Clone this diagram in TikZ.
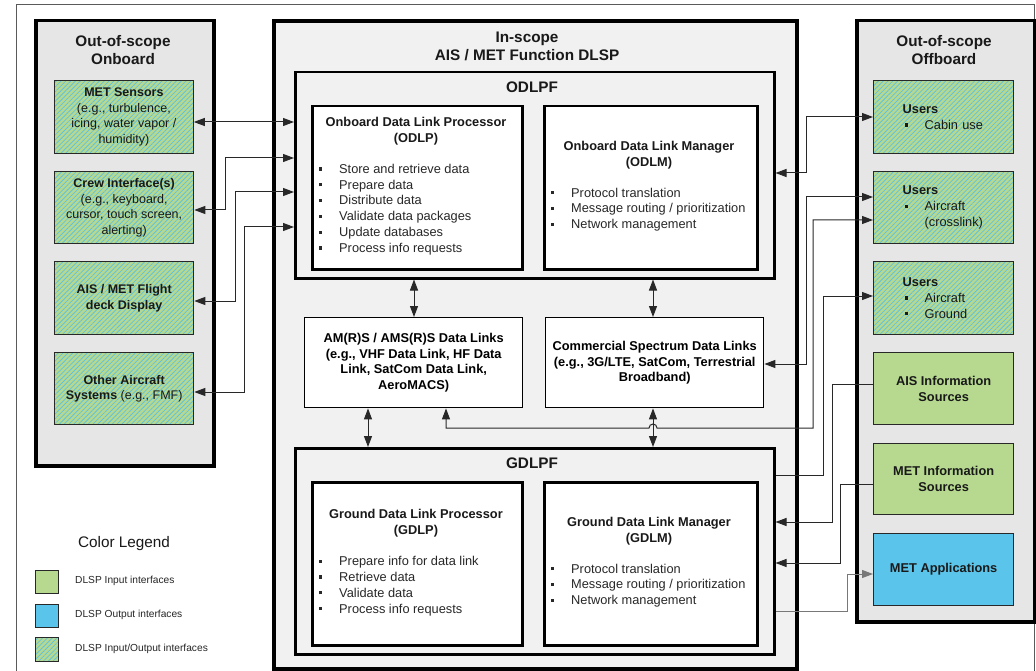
\documentclass[tikz,border=0pt]{standalone}
\usepackage{fontspec}
\setmainfont{Liberation Sans}
\usetikzlibrary{arrows.meta,patterns.meta}

\definecolor{ingreen}{RGB}{182,217,143}
\definecolor{hatchcyan}{RGB}{96,194,222}
\definecolor{outblue}{RGB}{90,196,234}
\definecolor{panelgray}{RGB}{230,230,230}
\definecolor{scopegray}{RGB}{241,241,241}
\definecolor{wirecol}{RGB}{40,40,40}
\definecolor{wirelight}{RGB}{120,120,120}
\definecolor{bodytext}{RGB}{40,40,40}
\definecolor{edgecol}{RGB}{40,40,40}
\definecolor{framecol}{RGB}{90,90,90}

\newcommand{\ttlfont}{\fontsize{15.3}{18.5}\selectfont\bfseries}
\newcommand{\hdfont}{\fontsize{12.8}{15.6}\selectfont\bfseries}
\newcommand{\txfont}{\fontsize{12.8}{15.8}\selectfont}
\newcommand{\cbfont}{\fontsize{12.5}{15.5}\selectfont}
\newcommand{\bul}{\makebox[20pt][l]{\rule[2.8pt]{3.2pt}{3.2pt}}}

\begin{document}
\begin{tikzpicture}[
  x=1pt, y=-1pt,
  >={Triangle[length=11pt,width=8pt]},
  panel/.style={draw=black, line width=3.5pt, fill=panelgray, anchor=north west, inner sep=0pt},
  inscope/.style={draw=black, line width=4pt, fill=scopegray, anchor=north west, inner sep=0pt},
  func/.style={draw=black, line width=2.5pt, fill=scopegray, anchor=north west, inner sep=0pt},
  unit/.style={draw=black, line width=2.5pt, fill=white, anchor=north west, inner sep=0pt},
  link/.style={draw=black, line width=1.4pt, fill=white, anchor=north west, inner sep=0pt,
    font=\hdfont, align=center, text=black},
  iobox/.style={draw=edgecol, line width=1.3pt, preaction={fill=ingreen},
    pattern={Lines[angle=45,distance=3.4pt,line width=0.8pt]}, pattern color=hatchcyan,
    anchor=north west, inner sep=0pt, font=\cbfont, align=center, text=black!90},
  inbox/.style={draw=edgecol, line width=1.3pt, fill=ingreen, anchor=north west,
    inner sep=0pt, font=\hdfont, align=center, text=black!90},
  outbox/.style={draw=edgecol, line width=1.3pt, fill=outblue, anchor=north west,
    inner sep=0pt, font=\hdfont, align=center, text=black!90},
  userbox/.style={iobox, text width=82pt, align=left, font=\txfont},
  ttl/.style={font=\ttlfont, align=center, inner sep=0pt, text=black!90},
  hd/.style={font=\hdfont, align=center, inner sep=0pt, text=black!90},
  blist/.style={font=\txfont, align=left, anchor=west, inner sep=0pt, text=bodytext},
  wire/.style={draw=wirecol, line width=1pt},
  softwire/.style={draw=wirelight, line width=1pt},
]
\useasboundingbox (0,0) rectangle (1036,671);
\fill[white] (0,0) rectangle (1036,671);

% page frame
\draw[framecol, line width=1pt] (16,680) -- (16,5) -- (1034,5) -- (1034,680);

% ---------- panels ----------
\node[panel, minimum width=178pt, minimum height=445pt] (onb) at (34,19) {};
\node[panel, minimum width=178pt, minimum height=601pt] (offb) at (855,19) {};
\node[inscope, minimum width=523pt, minimum height=648pt] (insc) at (272,19) {};

\node[ttl] (onbT) at (123,50) {Out-of-scope\\Onboard};
\node[ttl] (offbT) at (944,50) {Out-of-scope\\Offboard};
\node[ttl] (inscT) at (527,46.5) {In-scope\\AIS / MET Function DLSP};

% ---------- onboard data link processing function ----------
\node[func, minimum width=479pt, minimum height=206pt] (odlpf) at (294,71) {};
\node[ttl] (odlpfT) at (532,87) {ODLPF};
\node[unit, minimum width=210pt, minimum height=163pt] (odlp) at (311,105) {};
\node[unit, minimum width=213pt, minimum height=163pt] (odlm) at (543,105) {};
\node[hd] (odlpT) at (416,131) {Onboard Data Link Processor\\(ODLP)};
\node[blist] (odlpL) at (319,209.5) {\bul Store and retrieve data\\\bul Prepare data\\\bul Distribute data\\\bul Validate data packages\\\bul Update databases\\\bul Process info requests};
\node[hd] (odlmT) at (649,155) {Onboard Data Link Manager\\(ODLM)};
\node[blist] (odlmL) at (551,209.5) {\bul Protocol translation\\\bul Message routing / prioritization\\\bul Network management};

% ---------- data links ----------
\node[link, minimum width=218pt, minimum height=90pt] (amrs) at (304,317)
  {AM(R)S / AMS(R)S Data Links\\(e.g., VHF Data Link, HF Data\\Link, SatCom Data Link,\\AeroMACS)};
\node[link, minimum width=218pt, minimum height=90pt] (comm) at (545,317)
  {Commercial Spectrum Data Links\\(e.g., 3G/LTE, SatCom, Terrestrial\\Broadband)};

% ---------- ground data link processing function ----------
\node[func, minimum width=479pt, minimum height=206pt] (gdlpf) at (294,447) {};
\node[ttl] (gdlpfT) at (532,463) {GDLPF};
\node[unit, minimum width=210pt, minimum height=163pt] (gdlp) at (311,481) {};
\node[unit, minimum width=213pt, minimum height=163pt] (gdlm) at (543,481) {};
\node[hd] (gdlpT) at (416,523) {Ground Data Link Processor\\(GDLP)};
\node[blist] (gdlpL) at (319,586) {\bul Prepare info for data link\\\bul Retrieve data\\\bul Validate data\\\bul Process info requests};
\node[hd] (gdlmT) at (649,531) {Ground Data Link Manager\\(GDLM)};
\node[blist] (gdlmL) at (551,585.5) {\bul Protocol translation\\\bul Message routing / prioritization\\\bul Network management};

% ---------- onboard interfaces ----------
\node[iobox, minimum width=139pt, minimum height=73pt] (ms) at (54,80)
  {\textbf{MET Sensors}\\(e.g., turbulence,\\icing, water vapor /\\humidity)};
\node[iobox, minimum width=139pt, minimum height=72pt] (crew) at (54,171)
  {\textbf{Crew Interface(s)}\\(e.g., keyboard,\\cursor, touch screen,\\alerting)};
\node[iobox, minimum width=139pt, minimum height=73pt] (disp) at (54,261)
  {\textbf{AIS / MET Flight}\\\textbf{deck Display}};
\node[iobox, minimum width=139pt, minimum height=72pt] (oth) at (54,352)
  {\textbf{Other Aircraft}\\\textbf{Systems} (e.g., FMF)};

% ---------- offboard interfaces ----------
\node[userbox, minimum width=140pt, minimum height=73pt] (ucab) at (873,80)
  {\textbf{Users}\\\hspace*{2pt}\bul Cabin use};
\node[userbox, minimum width=140pt, minimum height=72pt] (ucross) at (873,171)
  {\textbf{Users}\\\hspace*{2pt}\bul Aircraft\\\hspace*{22pt}(crosslink)};
\node[userbox, minimum width=140pt, minimum height=73pt] (ugnd) at (873,261)
  {\textbf{Users}\\\hspace*{2pt}\bul Aircraft\\\hspace*{2pt}\bul Ground};
\node[inbox, minimum width=140pt, minimum height=72pt] (aisrc) at (873,352)
  {AIS Information\\Sources};
\node[inbox, minimum width=140pt, minimum height=71pt] (metsrc) at (873,443)
  {MET Information\\Sources};
\node[outbox, minimum width=140pt, minimum height=72pt] (metapp) at (873,533)
  {MET Applications};

% ---------- legend ----------
\node[font=\fontsize{15.3}{18}\selectfont, inner sep=0pt, text=black!90] (legT) at (124,544) {Color Legend};
\node[inbox, minimum width=23pt, minimum height=23pt] (legIn) at (35,570) {};
\node[outbox, minimum width=23pt, minimum height=23pt] (legOut) at (35,604) {};
\node[iobox, minimum width=23pt, minimum height=24pt] (legIO) at (35,637) {};
\node[font=\fontsize{10.2}{12}\selectfont, anchor=west, inner sep=0pt, text=black!85] (legInT) at (75,581) {DLSP Input interfaces};
\node[font=\fontsize{10.2}{12}\selectfont, anchor=west, inner sep=0pt, text=black!85] (legOutT) at (75,615) {DLSP Output interfaces};
\node[font=\fontsize{10.2}{12}\selectfont, anchor=west, inner sep=0pt, text=black!85] (legIOT) at (75,649) {DLSP Input/Output interfaces};

% ---------- onboard connectors ----------
\draw[wire,<->] (ms.east |- 0,122) -- (odlpf.west |- 0,122);
\draw[wire,<->] (crew.east |- 0,210) -- (225,210) -- (225,158) -- (odlpf.west |- 0,158);
\draw[wire,<->] (disp.east |- 0,301) -- (235,301) -- (235,192) -- (odlpf.west |- 0,192);
\draw[wire,<->] (oth.east |- 0,392) -- (244,392) -- (244,227) -- (odlpf.west |- 0,227);

% ---------- data link connectors ----------
\draw[wire,<->] (odlpf.south -| 414,0) -- (amrs.north -| 414,0);
\draw[wire,<->] (odlpf.south -| 653,0) -- (comm.north -| 653,0);
\draw[wire,<->] (amrs.south -| 368,0) -- (gdlpf.north -| 368,0);
\draw[wire,<->] (comm.south -| 653,0) -- (gdlpf.north -| 653,0);

% ---------- offboard connectors ----------
\draw[wire,<->] (ucab.west |- 0,117) -- (806,117) -- (806,173) -- (odlpf.east |- 0,173);
\draw[wire,<->] (ucross.west |- 0,197) -- (806,197) -- (806,364) -- (comm.east |- 0,364);
\draw[wire,<->] (ucross.west |- 0,220) -- (813,220) -- (813,428) -- (657,428)
  arc[start angle=0, end angle=-180, radius=4] -- (446,428) -- (amrs.south -| 446,0);
\draw[wire,->] (gdlpf.east |- 0,475) -- (823,475) -- (823,296) -- (ugnd.west |- 0,296);
\draw[wire,->] (aisrc.west |- 0,384) -- (832,384) -- (832,522) -- (gdlpf.east |- 0,522);
\draw[wire,->] (metsrc.west |- 0,484) -- (840,484) -- (840,563) -- (gdlpf.east |- 0,563);
\draw[softwire,->] (gdlpf.east |- 0,611) -- (847,611) -- (847,574) -- (metapp.west |- 0,574);
\end{tikzpicture}
\end{document}
